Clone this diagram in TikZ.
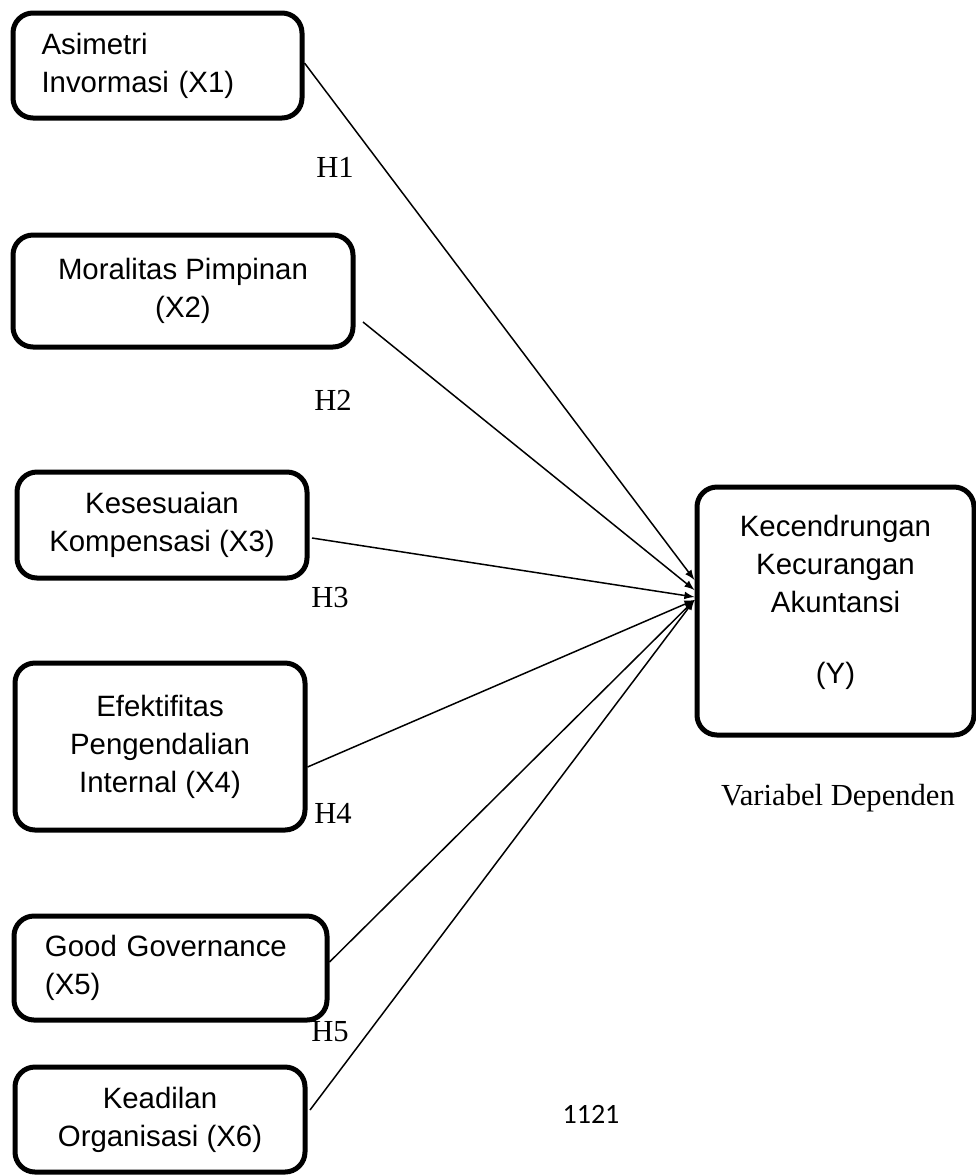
\documentclass[tikz,border=0pt]{standalone}
\usepackage{fontspec}
\setmainfont{Liberation Serif}
\newfontfamily\boxfont{Liberation Sans}
\newfontfamily\pagefont{Carlito}
\usetikzlibrary{calc}
\usetikzlibrary{arrows}

\begin{document}
\begin{tikzpicture}[x=0.5pt, y=-0.5pt,
  varbox/.style={draw, line width=2.5pt, rounded corners=10pt, inner sep=0pt,
    align=center, font=\boxfont\fontsize{14.7}{19}\selectfont},
  hlabel/.style={font=\fontsize{15.3}{18}\selectfont},
  link/.style={line width=0.75pt, -latex}]
  \useasboundingbox (0,0) rectangle (976,1175);

  \node[varbox, minimum width=144.5pt, minimum height=52.5pt,
    text width=116pt, align=left] (x1) at (157.5,65.5) {Asimetri\\Invormasi (X1)};
  \node[varbox, minimum width=170pt, minimum height=56pt]
    (x2) at (183,291) {Moralitas Pimpinan\\(X2)};
  \node[varbox, minimum width=145pt, minimum height=53pt]
    (x3) at (162,525) {Kesesuaian\\Kompensasi (X3)};
  \node[varbox, minimum width=145pt, minimum height=83.5pt]
    (x4) at (160,746.5) {Efektifitas\\Pengendalian\\Internal (X4)};
  \node[varbox, minimum width=156.5pt, minimum height=52pt,
    text width=125.5pt, align=left] (x5) at (170.5,968) {Good Governance\\(X5)};
  \node[varbox, minimum width=145pt, minimum height=52.5pt]
    (x6) at (160,1119.5) {Keadilan\\Organisasi (X6)};
  \node[varbox, minimum width=138.5pt, minimum height=124pt, text depth=12pt]
    (y) at (835.5,611) {Kecendrungan\\Kecurangan\\Akuntansi\\[16.5pt](Y)};

  \draw[link] ([shift={(0,-2.5)}]x1.east) -- ([shift={(0,-31)}]y.west);
  \draw[link] ([shift={(7.5,31)}]x2.east) -- ([shift={(0,-21)}]y.west);
  \draw[link] ([shift={(2.5,13)}]x3.east) -- ([shift={(0,-14)}]y.west);
  \draw[link] ([shift={(0,20.5)}]x4.east) -- ([shift={(0,-11)}]y.west);
  \draw[link] ([shift={(0,-6)}]x5.east) -- ([shift={(0,-11)}]y.west);
  \draw[link] ([shift={(2.5,-9.5)}]x6.east) -- ([shift={(0,-11)}]y.west);

  \node[hlabel] (h1) at (335,167) {H1};
  \node[hlabel] (h2) at (333,400) {H2};
  \node[hlabel] (h3) at (330,598) {H3};
  \node[hlabel] (h4) at (333,813) {H4};
  \node[hlabel] (h5) at (330,1032) {H5};

  \node[hlabel] (dep) at (838,798) {Variabel Dependen};
  \node[font=\pagefont\fontsize{14}{17}\selectfont] (page) at (591,1114) {1121};
\end{tikzpicture}
\end{document}
